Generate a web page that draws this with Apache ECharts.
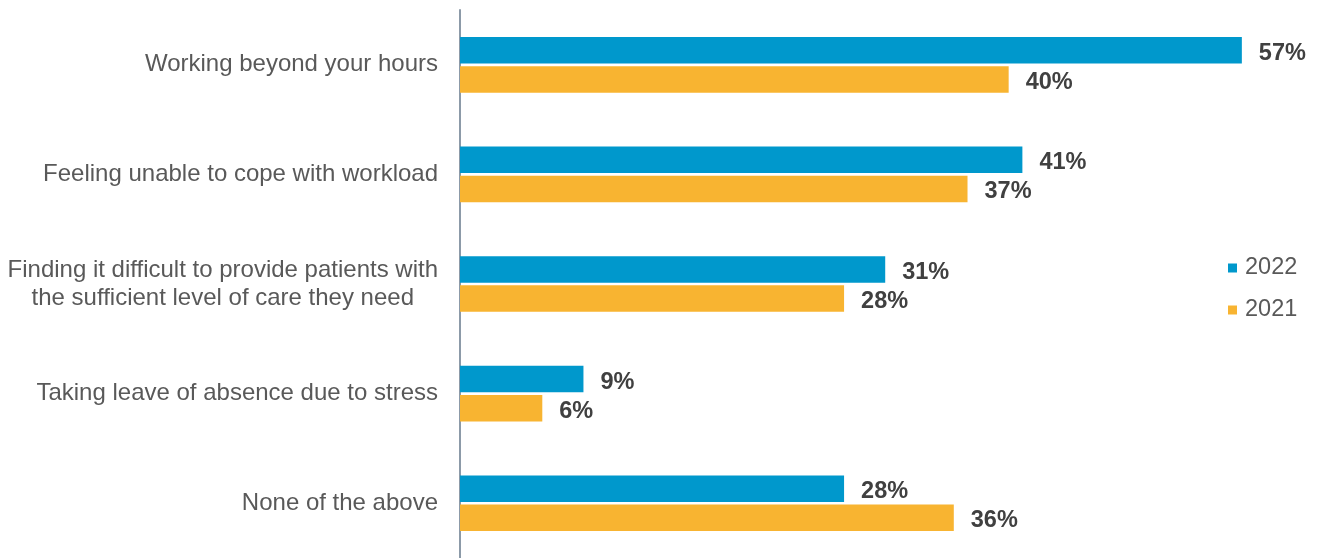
<!DOCTYPE html>
<html>
<head>
<meta charset="utf-8">
<script src="https://cdn.jsdelivr.net/npm/echarts@6/dist/echarts.min.js"></script>
<style>
  html, body { margin: 0; padding: 0; background: #fff; }
  #chart { width: 1322px; height: 558px; }
</style>
</head>
<body>
<div id="chart"></div>
<script>
// Survey categories, top to bottom
const categories = [
  'Working beyond your hours',
  'Feeling unable to cope with workload',
  'Finding it difficult to provide patients with\nthe sufficient level of care they need',
  'Taking leave of absence due to stress',
  'None of the above'
];
// Share of respondents (%)
const values2022 = [57, 41, 31, 9, 28];
const values2021 = [40, 37, 28, 6, 36];
const seriesNames = ['2022', '2021'];

const chart = echarts.init(document.getElementById('chart'));

const FONT = 'Liberation Sans, Arial, sans-serif';

const valueLabel = {
  show: true,
  position: 'right',
  distance: 17,
  offset: [0, 3],
  formatter: '{c}%',
  color: '#404040',
  fontWeight: 'bold',
  fontSize: 23.5,
  fontFamily: FONT
};

chart.setOption({
  animation: false,
  backgroundColor: '#ffffff',
  textStyle: { fontFamily: FONT },
  grid: { left: 460, right: 39, top: 10, bottom: -4 },
  legend: {
    data: seriesNames,
    orient: 'vertical',
    left: 1223,
    top: 251,
    icon: 'rect',
    itemWidth: 9,
    itemHeight: 9,
    itemGap: 18,
    textStyle: { color: '#595959', fontSize: 23.5, lineHeight: 24, padding: [0, 0, 0, 3] }
  },
  xAxis: {
    type: 'value',
    min: 0,
    max: 60,
    show: false
  },
  yAxis: {
    type: 'category',
    data: categories,
    inverse: true,
    axisLine: { show: true, lineStyle: { color: '#8C9AA8', width: 2 } },
    axisTick: { show: false },
    axisLabel: {
      margin: 22,
      color: '#595959',
      fontSize: 24,
      formatter: function (v) {
        return v.split('\n').map(function (l) { return '{c|' + l + '}'; }).join('\n');
      },
      rich: {
        c: { align: 'center', color: '#595959', fontSize: 24, lineHeight: 28 }
      }
    }
  },
  series: [
    {
      name: seriesNames[0],
      type: 'bar',
      data: values2022,
      barWidth: 26.5,
      barGap: '10%',
      itemStyle: { color: '#0098CC' },
      label: valueLabel
    },
    {
      name: seriesNames[1],
      type: 'bar',
      data: values2021,
      barWidth: 26.5,
      barGap: '10%',
      itemStyle: { color: '#F8B431' },
      label: valueLabel
    }
  ]
});
</script>
</body>
</html>
